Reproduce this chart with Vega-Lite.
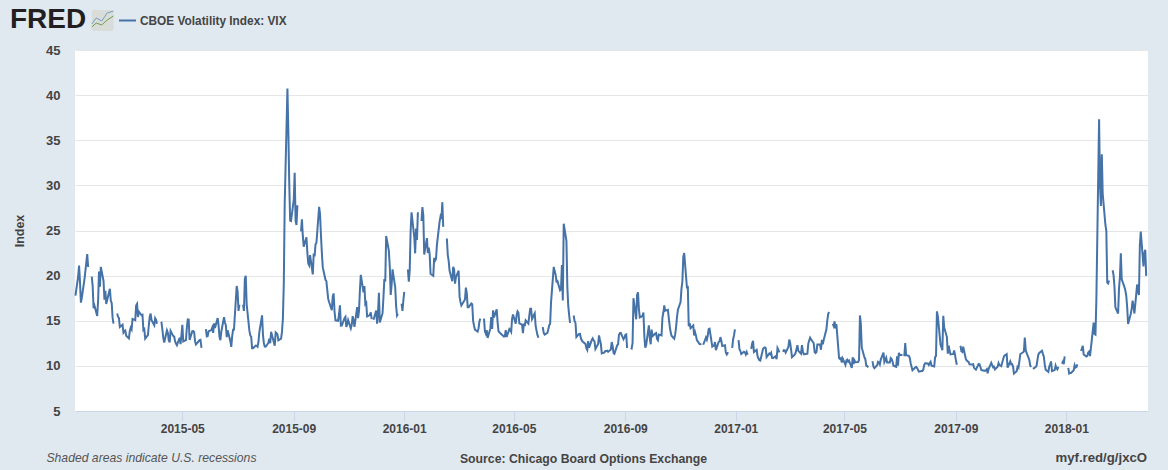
{"$schema":"https://vega.github.io/schema/vega-lite/v6.json","width":1073,"height":361,"autosize":"none","padding":{"left":75,"top":50,"right":20,"bottom":59},"background":"#e1e9f0","view":{"fill":"#ffffff","stroke":null},
"title":{"text":"FRED","anchor":"start","frame":"group","dx":-65,"offset":-47,"baseline":"alphabetic","fontSize":28,"fontWeight":"bold","font":"Liberation Sans","color":"#231f20"},
"config":{"view":{"fill":"#ffffff","stroke":null}},
"datasets":{"logoBox":[{"a":"2015-01-20","b":"2015-02-13","lo":47.1,"hi":49.43}],
"logoLines":[{"d":"2015-01-20","v":47.55,"s":"g"},{"d":"2015-01-25","v":47.99,"s":"g"},{"d":"2015-01-31","v":47.77,"s":"g"},{"d":"2015-02-06","v":48.32,"s":"g"},{"d":"2015-02-13","v":48.77,"s":"g"},{"d":"2015-01-20","v":47.88,"s":"b"},{"d":"2015-01-25","v":48.55,"s":"b"},{"d":"2015-01-31","v":48.21,"s":"b"},{"d":"2015-02-06","v":49.1,"s":"b"},{"d":"2015-02-13","v":49.32,"s":"b"}],
"vix":[
{"d":"2015-01-02","v":17.79},{"d":"2015-01-05","v":19.92},{"d":"2015-01-06","v":21.12},{"d":"2015-01-07","v":19.31},{"d":"2015-01-08","v":17.01},{"d":"2015-01-09","v":17.55},{"d":"2015-01-12","v":19.6},{"d":"2015-01-13","v":20.56},{"d":"2015-01-14","v":21.48},{"d":"2015-01-15","v":22.39},{"d":"2015-01-16","v":20.95},{"d":"2015-01-19","v":null},{"d":"2015-01-20","v":19.89},{"d":"2015-01-21","v":18.85},{"d":"2015-01-22","v":16.4},{"d":"2015-01-23","v":16.66},{"d":"2015-01-26","v":15.52},{"d":"2015-01-27","v":17.22},{"d":"2015-01-28","v":20.44},{"d":"2015-01-29","v":18.76},{"d":"2015-01-30","v":20.97},
{"d":"2015-02-02","v":19.43},{"d":"2015-02-03","v":17.33},{"d":"2015-02-04","v":18.33},{"d":"2015-02-05","v":16.85},{"d":"2015-02-06","v":17.29},{"d":"2015-02-09","v":18.55},{"d":"2015-02-10","v":17.23},{"d":"2015-02-11","v":16.96},{"d":"2015-02-12","v":15.34},{"d":"2015-02-13","v":14.69},{"d":"2015-02-16","v":null},{"d":"2015-02-17","v":15.8},{"d":"2015-02-18","v":15.45},{"d":"2015-02-19","v":15.29},{"d":"2015-02-20","v":14.3},{"d":"2015-02-23","v":14.56},{"d":"2015-02-24","v":13.69},{"d":"2015-02-25","v":13.84},{"d":"2015-02-26","v":13.91},{"d":"2015-02-27","v":13.34},
{"d":"2015-03-02","v":13.04},{"d":"2015-03-03","v":13.86},{"d":"2015-03-04","v":14.23},{"d":"2015-03-05","v":14.04},{"d":"2015-03-06","v":15.2},{"d":"2015-03-09","v":15.06},{"d":"2015-03-10","v":16.69},{"d":"2015-03-11","v":16.87},{"d":"2015-03-12","v":15.42},{"d":"2015-03-13","v":16.0},{"d":"2015-03-16","v":15.61},{"d":"2015-03-17","v":15.66},{"d":"2015-03-18","v":13.97},{"d":"2015-03-19","v":14.07},{"d":"2015-03-20","v":13.02},{"d":"2015-03-23","v":13.41},{"d":"2015-03-24","v":14.5},{"d":"2015-03-25","v":15.44},{"d":"2015-03-26","v":15.8},{"d":"2015-03-27","v":15.07},{"d":"2015-03-30","v":14.51},{"d":"2015-03-31","v":15.29},
{"d":"2015-04-01","v":15.11},{"d":"2015-04-02","v":14.67},{"d":"2015-04-03","v":null},{"d":"2015-04-06","v":14.74},{"d":"2015-04-07","v":14.78},{"d":"2015-04-08","v":13.98},{"d":"2015-04-09","v":13.09},{"d":"2015-04-10","v":12.58},{"d":"2015-04-13","v":13.94},{"d":"2015-04-14","v":13.67},{"d":"2015-04-15","v":12.84},{"d":"2015-04-16","v":12.6},{"d":"2015-04-17","v":13.89},{"d":"2015-04-20","v":13.3},{"d":"2015-04-21","v":13.25},{"d":"2015-04-22","v":12.71},{"d":"2015-04-23","v":12.48},{"d":"2015-04-24","v":12.29},{"d":"2015-04-27","v":13.12},{"d":"2015-04-28","v":12.41},{"d":"2015-04-29","v":13.39},{"d":"2015-04-30","v":14.55},
{"d":"2015-05-01","v":12.7},{"d":"2015-05-04","v":12.85},{"d":"2015-05-05","v":14.31},{"d":"2015-05-06","v":15.15},{"d":"2015-05-07","v":15.13},{"d":"2015-05-08","v":12.86},{"d":"2015-05-11","v":13.85},{"d":"2015-05-12","v":13.86},{"d":"2015-05-13","v":13.76},{"d":"2015-05-14","v":12.74},{"d":"2015-05-15","v":12.38},{"d":"2015-05-18","v":12.73},{"d":"2015-05-19","v":12.85},{"d":"2015-05-20","v":12.88},{"d":"2015-05-21","v":12.11},{"d":"2015-05-22","v":12.13},{"d":"2015-05-25","v":null},{"d":"2015-05-26","v":14.06},{"d":"2015-05-27","v":13.27},{"d":"2015-05-28","v":13.31},{"d":"2015-05-29","v":13.84},
{"d":"2015-06-01","v":13.97},{"d":"2015-06-02","v":14.24},{"d":"2015-06-03","v":13.66},{"d":"2015-06-04","v":14.71},{"d":"2015-06-05","v":14.21},{"d":"2015-06-08","v":15.29},{"d":"2015-06-09","v":14.47},{"d":"2015-06-10","v":13.22},{"d":"2015-06-11","v":12.85},{"d":"2015-06-12","v":13.78},{"d":"2015-06-15","v":15.39},{"d":"2015-06-16","v":14.81},{"d":"2015-06-17","v":14.5},{"d":"2015-06-18","v":13.19},{"d":"2015-06-19","v":13.96},{"d":"2015-06-22","v":12.74},{"d":"2015-06-23","v":12.11},{"d":"2015-06-24","v":13.26},{"d":"2015-06-25","v":14.01},{"d":"2015-06-26","v":14.02},{"d":"2015-06-29","v":18.85},{"d":"2015-06-30","v":18.23},
{"d":"2015-07-01","v":16.09},{"d":"2015-07-02","v":16.79},{"d":"2015-07-03","v":null},{"d":"2015-07-06","v":16.79},{"d":"2015-07-07","v":16.09},{"d":"2015-07-08","v":19.66},{"d":"2015-07-09","v":19.97},{"d":"2015-07-10","v":16.83},{"d":"2015-07-13","v":13.9},{"d":"2015-07-14","v":13.37},{"d":"2015-07-15","v":13.23},{"d":"2015-07-16","v":11.95},{"d":"2015-07-17","v":11.95},{"d":"2015-07-20","v":12.25},{"d":"2015-07-21","v":12.22},{"d":"2015-07-22","v":12.12},{"d":"2015-07-23","v":12.64},{"d":"2015-07-24","v":13.74},{"d":"2015-07-27","v":15.6},{"d":"2015-07-28","v":13.44},{"d":"2015-07-29","v":12.5},{"d":"2015-07-30","v":12.13},{"d":"2015-07-31","v":12.12},
{"d":"2015-08-03","v":12.56},{"d":"2015-08-04","v":13.0},{"d":"2015-08-05","v":12.51},{"d":"2015-08-06","v":13.77},{"d":"2015-08-07","v":13.39},{"d":"2015-08-10","v":12.23},{"d":"2015-08-11","v":13.71},{"d":"2015-08-12","v":13.61},{"d":"2015-08-13","v":13.49},{"d":"2015-08-14","v":12.83},{"d":"2015-08-17","v":13.02},{"d":"2015-08-18","v":13.79},{"d":"2015-08-19","v":15.25},{"d":"2015-08-20","v":19.14},{"d":"2015-08-21","v":28.03},{"d":"2015-08-24","v":40.74},{"d":"2015-08-25","v":36.02},{"d":"2015-08-26","v":30.32},{"d":"2015-08-27","v":26.1},{"d":"2015-08-28","v":26.05},{"d":"2015-08-31","v":28.43},
{"d":"2015-09-01","v":31.4},{"d":"2015-09-02","v":26.09},{"d":"2015-09-03","v":25.61},{"d":"2015-09-04","v":27.8},{"d":"2015-09-07","v":null},{"d":"2015-09-08","v":24.9},{"d":"2015-09-09","v":26.23},{"d":"2015-09-10","v":24.37},{"d":"2015-09-11","v":23.2},{"d":"2015-09-14","v":24.25},{"d":"2015-09-15","v":22.54},{"d":"2015-09-16","v":21.35},{"d":"2015-09-17","v":21.14},{"d":"2015-09-18","v":22.28},{"d":"2015-09-21","v":20.14},{"d":"2015-09-22","v":22.44},{"d":"2015-09-23","v":22.13},{"d":"2015-09-24","v":23.47},{"d":"2015-09-25","v":23.62},{"d":"2015-09-28","v":27.63},{"d":"2015-09-29","v":26.83},{"d":"2015-09-30","v":24.5},
{"d":"2015-10-01","v":22.55},{"d":"2015-10-02","v":20.94},{"d":"2015-10-05","v":19.54},{"d":"2015-10-06","v":19.4},{"d":"2015-10-07","v":18.4},{"d":"2015-10-08","v":17.42},{"d":"2015-10-09","v":17.08},{"d":"2015-10-12","v":16.17},{"d":"2015-10-13","v":17.67},{"d":"2015-10-14","v":18.03},{"d":"2015-10-15","v":16.05},{"d":"2015-10-16","v":15.05},{"d":"2015-10-19","v":15.0},{"d":"2015-10-20","v":15.75},{"d":"2015-10-21","v":16.7},{"d":"2015-10-22","v":14.45},{"d":"2015-10-23","v":14.46},{"d":"2015-10-26","v":15.29},{"d":"2015-10-27","v":15.43},{"d":"2015-10-28","v":14.33},{"d":"2015-10-29","v":14.61},{"d":"2015-10-30","v":15.07},
{"d":"2015-11-02","v":14.15},{"d":"2015-11-03","v":14.54},{"d":"2015-11-04","v":15.51},{"d":"2015-11-05","v":15.05},{"d":"2015-11-06","v":14.33},{"d":"2015-11-09","v":16.52},{"d":"2015-11-10","v":15.29},{"d":"2015-11-11","v":16.06},{"d":"2015-11-12","v":18.37},{"d":"2015-11-13","v":20.08},{"d":"2015-11-16","v":18.16},{"d":"2015-11-17","v":18.84},{"d":"2015-11-18","v":16.85},{"d":"2015-11-19","v":16.99},{"d":"2015-11-20","v":15.47},{"d":"2015-11-23","v":15.62},{"d":"2015-11-24","v":15.93},{"d":"2015-11-25","v":15.19},{"d":"2015-11-26","v":null},{"d":"2015-11-27","v":15.12},{"d":"2015-11-30","v":16.13},
{"d":"2015-12-01","v":14.67},{"d":"2015-12-02","v":15.91},{"d":"2015-12-03","v":18.11},{"d":"2015-12-04","v":14.81},{"d":"2015-12-07","v":15.84},{"d":"2015-12-08","v":17.6},{"d":"2015-12-09","v":19.61},{"d":"2015-12-10","v":19.34},{"d":"2015-12-11","v":24.39},{"d":"2015-12-14","v":22.73},{"d":"2015-12-15","v":20.95},{"d":"2015-12-16","v":17.86},{"d":"2015-12-17","v":18.94},{"d":"2015-12-18","v":20.7},{"d":"2015-12-21","v":18.7},{"d":"2015-12-22","v":16.6},{"d":"2015-12-23","v":15.57},{"d":"2015-12-24","v":15.74},{"d":"2015-12-25","v":null},{"d":"2015-12-28","v":16.91},{"d":"2015-12-29","v":16.08},{"d":"2015-12-30","v":17.29},{"d":"2015-12-31","v":18.21},{"d":"2016-01-01","v":null},
{"d":"2016-01-04","v":20.7},{"d":"2016-01-05","v":19.34},{"d":"2016-01-06","v":20.59},{"d":"2016-01-07","v":24.99},{"d":"2016-01-08","v":27.01},{"d":"2016-01-11","v":24.3},{"d":"2016-01-12","v":22.47},{"d":"2016-01-13","v":25.22},{"d":"2016-01-14","v":23.95},{"d":"2016-01-15","v":27.02},{"d":"2016-01-18","v":null},{"d":"2016-01-19","v":26.05},{"d":"2016-01-20","v":27.59},{"d":"2016-01-21","v":26.69},{"d":"2016-01-22","v":22.34},{"d":"2016-01-25","v":24.15},{"d":"2016-01-26","v":22.5},{"d":"2016-01-27","v":23.11},{"d":"2016-01-28","v":22.42},{"d":"2016-01-29","v":20.2},
{"d":"2016-02-01","v":19.98},{"d":"2016-02-02","v":21.98},{"d":"2016-02-03","v":21.65},{"d":"2016-02-04","v":21.84},{"d":"2016-02-05","v":23.38},{"d":"2016-02-08","v":26.0},{"d":"2016-02-09","v":26.54},{"d":"2016-02-10","v":26.29},{"d":"2016-02-11","v":28.14},{"d":"2016-02-12","v":25.4},{"d":"2016-02-15","v":null},{"d":"2016-02-16","v":24.11},{"d":"2016-02-17","v":22.31},{"d":"2016-02-18","v":21.64},{"d":"2016-02-19","v":20.53},{"d":"2016-02-22","v":19.38},{"d":"2016-02-23","v":20.98},{"d":"2016-02-24","v":20.72},{"d":"2016-02-25","v":19.11},{"d":"2016-02-26","v":19.81},{"d":"2016-02-29","v":20.55},
{"d":"2016-03-01","v":17.7},{"d":"2016-03-02","v":17.09},{"d":"2016-03-03","v":16.7},{"d":"2016-03-04","v":16.86},{"d":"2016-03-07","v":17.35},{"d":"2016-03-08","v":18.67},{"d":"2016-03-09","v":18.05},{"d":"2016-03-10","v":16.5},{"d":"2016-03-11","v":16.5},{"d":"2016-03-14","v":16.92},{"d":"2016-03-15","v":16.84},{"d":"2016-03-16","v":14.99},{"d":"2016-03-17","v":14.44},{"d":"2016-03-18","v":14.02},{"d":"2016-03-21","v":13.79},{"d":"2016-03-22","v":14.17},{"d":"2016-03-23","v":14.94},{"d":"2016-03-24","v":15.24},{"d":"2016-03-25","v":null},{"d":"2016-03-28","v":15.24},{"d":"2016-03-29","v":13.82},{"d":"2016-03-30","v":13.56},{"d":"2016-03-31","v":13.95},
{"d":"2016-04-01","v":13.1},{"d":"2016-04-04","v":14.12},{"d":"2016-04-05","v":15.42},{"d":"2016-04-06","v":14.09},{"d":"2016-04-07","v":16.16},{"d":"2016-04-08","v":15.36},{"d":"2016-04-11","v":16.26},{"d":"2016-04-12","v":14.85},{"d":"2016-04-13","v":13.84},{"d":"2016-04-14","v":13.72},{"d":"2016-04-15","v":13.62},{"d":"2016-04-18","v":13.35},{"d":"2016-04-19","v":13.24},{"d":"2016-04-20","v":13.28},{"d":"2016-04-21","v":13.95},{"d":"2016-04-22","v":13.22},{"d":"2016-04-25","v":14.08},{"d":"2016-04-26","v":13.96},{"d":"2016-04-27","v":13.77},{"d":"2016-04-28","v":15.22},{"d":"2016-04-29","v":15.7},
{"d":"2016-05-02","v":14.68},{"d":"2016-05-03","v":15.6},{"d":"2016-05-04","v":16.05},{"d":"2016-05-05","v":15.91},{"d":"2016-05-06","v":14.72},{"d":"2016-05-09","v":14.57},{"d":"2016-05-10","v":13.63},{"d":"2016-05-11","v":14.69},{"d":"2016-05-12","v":14.41},{"d":"2016-05-13","v":15.04},{"d":"2016-05-16","v":14.68},{"d":"2016-05-17","v":15.57},{"d":"2016-05-18","v":16.33},{"d":"2016-05-19","v":16.33},{"d":"2016-05-20","v":15.2},{"d":"2016-05-23","v":15.82},{"d":"2016-05-24","v":14.42},{"d":"2016-05-25","v":13.9},{"d":"2016-05-26","v":13.43},{"d":"2016-05-27","v":13.12},{"d":"2016-05-30","v":null},{"d":"2016-05-31","v":14.19},
{"d":"2016-06-01","v":14.2},{"d":"2016-06-02","v":13.63},{"d":"2016-06-03","v":13.47},{"d":"2016-06-06","v":13.65},{"d":"2016-06-07","v":14.05},{"d":"2016-06-08","v":14.5},{"d":"2016-06-09","v":14.64},{"d":"2016-06-10","v":17.03},{"d":"2016-06-13","v":20.97},{"d":"2016-06-14","v":20.5},{"d":"2016-06-15","v":20.14},{"d":"2016-06-16","v":19.37},{"d":"2016-06-17","v":19.41},{"d":"2016-06-20","v":18.37},{"d":"2016-06-21","v":18.48},{"d":"2016-06-22","v":21.17},{"d":"2016-06-23","v":17.25},{"d":"2016-06-24","v":25.76},{"d":"2016-06-27","v":23.85},{"d":"2016-06-28","v":18.75},{"d":"2016-06-29","v":16.64},{"d":"2016-06-30","v":15.63},
{"d":"2016-07-01","v":14.77},{"d":"2016-07-04","v":null},{"d":"2016-07-05","v":15.58},{"d":"2016-07-06","v":14.96},{"d":"2016-07-07","v":14.76},{"d":"2016-07-08","v":13.2},{"d":"2016-07-11","v":13.54},{"d":"2016-07-12","v":13.55},{"d":"2016-07-13","v":13.04},{"d":"2016-07-14","v":12.82},{"d":"2016-07-15","v":12.67},{"d":"2016-07-18","v":12.44},{"d":"2016-07-19","v":11.97},{"d":"2016-07-20","v":11.77},{"d":"2016-07-21","v":12.74},{"d":"2016-07-22","v":12.02},{"d":"2016-07-25","v":12.87},{"d":"2016-07-26","v":13.05},{"d":"2016-07-27","v":12.83},{"d":"2016-07-28","v":12.72},{"d":"2016-07-29","v":11.87},
{"d":"2016-08-01","v":12.44},{"d":"2016-08-02","v":13.37},{"d":"2016-08-03","v":12.86},{"d":"2016-08-04","v":12.42},{"d":"2016-08-05","v":11.39},{"d":"2016-08-08","v":11.5},{"d":"2016-08-09","v":11.66},{"d":"2016-08-10","v":11.66},{"d":"2016-08-11","v":11.68},{"d":"2016-08-12","v":11.55},{"d":"2016-08-15","v":11.81},{"d":"2016-08-16","v":12.64},{"d":"2016-08-17","v":12.19},{"d":"2016-08-18","v":11.43},{"d":"2016-08-19","v":11.34},{"d":"2016-08-22","v":12.27},{"d":"2016-08-23","v":12.38},{"d":"2016-08-24","v":13.45},{"d":"2016-08-25","v":13.63},{"d":"2016-08-26","v":13.65},{"d":"2016-08-29","v":12.94},{"d":"2016-08-30","v":13.12},{"d":"2016-08-31","v":13.42},
{"d":"2016-09-01","v":13.48},{"d":"2016-09-02","v":11.98},{"d":"2016-09-05","v":null},{"d":"2016-09-06","v":12.02},{"d":"2016-09-07","v":11.94},{"d":"2016-09-08","v":12.51},{"d":"2016-09-09","v":17.5},{"d":"2016-09-12","v":15.16},{"d":"2016-09-13","v":17.85},{"d":"2016-09-14","v":18.14},{"d":"2016-09-15","v":16.3},{"d":"2016-09-16","v":15.37},{"d":"2016-09-19","v":15.53},{"d":"2016-09-20","v":15.92},{"d":"2016-09-21","v":13.3},{"d":"2016-09-22","v":12.02},{"d":"2016-09-23","v":12.29},{"d":"2016-09-26","v":14.5},{"d":"2016-09-27","v":13.1},{"d":"2016-09-28","v":12.39},{"d":"2016-09-29","v":14.02},{"d":"2016-09-30","v":13.29},
{"d":"2016-10-03","v":13.57},{"d":"2016-10-04","v":13.63},{"d":"2016-10-05","v":12.99},{"d":"2016-10-06","v":12.84},{"d":"2016-10-07","v":13.48},{"d":"2016-10-10","v":13.38},{"d":"2016-10-11","v":15.36},{"d":"2016-10-12","v":15.91},{"d":"2016-10-13","v":16.69},{"d":"2016-10-14","v":16.12},{"d":"2016-10-17","v":16.21},{"d":"2016-10-18","v":15.28},{"d":"2016-10-19","v":14.41},{"d":"2016-10-20","v":13.75},{"d":"2016-10-21","v":13.34},{"d":"2016-10-24","v":13.02},{"d":"2016-10-25","v":13.46},{"d":"2016-10-26","v":14.24},{"d":"2016-10-27","v":15.36},{"d":"2016-10-28","v":16.19},{"d":"2016-10-31","v":17.06},
{"d":"2016-11-01","v":18.56},{"d":"2016-11-02","v":19.32},{"d":"2016-11-03","v":22.08},{"d":"2016-11-04","v":22.51},{"d":"2016-11-07","v":18.71},{"d":"2016-11-08","v":18.74},{"d":"2016-11-09","v":14.38},{"d":"2016-11-10","v":14.74},{"d":"2016-11-11","v":14.17},{"d":"2016-11-14","v":14.48},{"d":"2016-11-15","v":13.37},{"d":"2016-11-16","v":13.72},{"d":"2016-11-17","v":13.35},{"d":"2016-11-18","v":12.85},{"d":"2016-11-21","v":12.42},{"d":"2016-11-22","v":12.41},{"d":"2016-11-23","v":12.43},{"d":"2016-11-24","v":null},{"d":"2016-11-25","v":12.34},{"d":"2016-11-28","v":13.15},{"d":"2016-11-29","v":12.9},{"d":"2016-11-30","v":13.33},
{"d":"2016-12-01","v":14.07},{"d":"2016-12-02","v":14.12},{"d":"2016-12-05","v":12.14},{"d":"2016-12-06","v":12.22},{"d":"2016-12-07","v":12.22},{"d":"2016-12-08","v":12.64},{"d":"2016-12-09","v":11.75},{"d":"2016-12-12","v":12.64},{"d":"2016-12-13","v":12.72},{"d":"2016-12-14","v":13.19},{"d":"2016-12-15","v":12.79},{"d":"2016-12-16","v":12.2},{"d":"2016-12-19","v":12.29},{"d":"2016-12-20","v":11.45},{"d":"2016-12-21","v":11.27},{"d":"2016-12-22","v":11.43},{"d":"2016-12-23","v":11.44},{"d":"2016-12-26","v":null},{"d":"2016-12-27","v":11.99},{"d":"2016-12-28","v":12.95},{"d":"2016-12-29","v":13.37},{"d":"2016-12-30","v":14.04},{"d":"2017-01-02","v":null},
{"d":"2017-01-03","v":12.85},{"d":"2017-01-04","v":11.85},{"d":"2017-01-05","v":11.67},{"d":"2017-01-06","v":11.32},{"d":"2017-01-09","v":11.56},{"d":"2017-01-10","v":11.49},{"d":"2017-01-11","v":11.26},{"d":"2017-01-12","v":11.54},{"d":"2017-01-13","v":11.23},{"d":"2017-01-16","v":null},{"d":"2017-01-17","v":11.87},{"d":"2017-01-18","v":12.48},{"d":"2017-01-19","v":12.78},{"d":"2017-01-20","v":11.54},{"d":"2017-01-23","v":11.77},{"d":"2017-01-24","v":11.07},{"d":"2017-01-25","v":10.81},{"d":"2017-01-26","v":10.63},{"d":"2017-01-27","v":10.58},{"d":"2017-01-30","v":11.88},{"d":"2017-01-31","v":11.99},
{"d":"2017-02-01","v":12.04},{"d":"2017-02-02","v":11.98},{"d":"2017-02-03","v":10.97},{"d":"2017-02-06","v":11.37},{"d":"2017-02-07","v":11.29},{"d":"2017-02-08","v":11.45},{"d":"2017-02-09","v":10.88},{"d":"2017-02-10","v":10.85},{"d":"2017-02-13","v":11.07},{"d":"2017-02-14","v":10.74},{"d":"2017-02-15","v":11.97},{"d":"2017-02-16","v":11.76},{"d":"2017-02-17","v":11.49},{"d":"2017-02-20","v":null},{"d":"2017-02-21","v":11.57},{"d":"2017-02-22","v":11.74},{"d":"2017-02-23","v":11.71},{"d":"2017-02-24","v":11.47},{"d":"2017-02-27","v":12.09},{"d":"2017-02-28","v":12.92},
{"d":"2017-03-01","v":12.54},{"d":"2017-03-02","v":11.81},{"d":"2017-03-03","v":10.96},{"d":"2017-03-06","v":11.24},{"d":"2017-03-07","v":11.45},{"d":"2017-03-08","v":11.86},{"d":"2017-03-09","v":12.3},{"d":"2017-03-10","v":11.66},{"d":"2017-03-13","v":11.35},{"d":"2017-03-14","v":12.3},{"d":"2017-03-15","v":11.63},{"d":"2017-03-16","v":11.28},{"d":"2017-03-17","v":11.28},{"d":"2017-03-20","v":11.34},{"d":"2017-03-21","v":12.47},{"d":"2017-03-22","v":12.81},{"d":"2017-03-23","v":13.12},{"d":"2017-03-24","v":12.96},{"d":"2017-03-27","v":12.5},{"d":"2017-03-28","v":11.53},{"d":"2017-03-29","v":11.42},{"d":"2017-03-30","v":11.54},{"d":"2017-03-31","v":12.37},
{"d":"2017-04-03","v":12.38},{"d":"2017-04-04","v":11.79},{"d":"2017-04-05","v":12.89},{"d":"2017-04-06","v":12.39},{"d":"2017-04-07","v":12.87},{"d":"2017-04-10","v":14.05},{"d":"2017-04-11","v":15.07},{"d":"2017-04-12","v":15.77},{"d":"2017-04-13","v":15.96},{"d":"2017-04-14","v":null},{"d":"2017-04-17","v":14.66},{"d":"2017-04-18","v":14.42},{"d":"2017-04-19","v":14.93},{"d":"2017-04-20","v":14.15},{"d":"2017-04-21","v":14.63},{"d":"2017-04-24","v":10.84},{"d":"2017-04-25","v":10.76},{"d":"2017-04-26","v":10.85},{"d":"2017-04-27","v":10.36},{"d":"2017-04-28","v":10.82},
{"d":"2017-05-01","v":10.11},{"d":"2017-05-02","v":10.59},{"d":"2017-05-03","v":10.68},{"d":"2017-05-04","v":10.46},{"d":"2017-05-05","v":10.57},{"d":"2017-05-08","v":9.77},{"d":"2017-05-09","v":10.96},{"d":"2017-05-10","v":10.21},{"d":"2017-05-11","v":10.6},{"d":"2017-05-12","v":10.4},{"d":"2017-05-15","v":10.42},{"d":"2017-05-16","v":10.65},{"d":"2017-05-17","v":15.59},{"d":"2017-05-18","v":14.66},{"d":"2017-05-19","v":12.04},{"d":"2017-05-22","v":10.93},{"d":"2017-05-23","v":10.72},{"d":"2017-05-24","v":10.02},{"d":"2017-05-25","v":9.99},{"d":"2017-05-26","v":9.81},{"d":"2017-05-29","v":null},{"d":"2017-05-30","v":10.38},{"d":"2017-05-31","v":10.41},
{"d":"2017-06-01","v":9.89},{"d":"2017-06-02","v":9.75},{"d":"2017-06-05","v":10.07},{"d":"2017-06-06","v":10.45},{"d":"2017-06-07","v":10.39},{"d":"2017-06-08","v":10.16},{"d":"2017-06-09","v":10.7},{"d":"2017-06-12","v":11.46},{"d":"2017-06-13","v":10.42},{"d":"2017-06-14","v":10.64},{"d":"2017-06-15","v":10.9},{"d":"2017-06-16","v":10.38},{"d":"2017-06-19","v":10.37},{"d":"2017-06-20","v":10.86},{"d":"2017-06-21","v":10.75},{"d":"2017-06-22","v":10.48},{"d":"2017-06-23","v":10.02},{"d":"2017-06-26","v":9.9},{"d":"2017-06-27","v":11.06},{"d":"2017-06-28","v":10.03},{"d":"2017-06-29","v":11.44},{"d":"2017-06-30","v":11.18},
{"d":"2017-07-03","v":11.22},{"d":"2017-07-04","v":null},{"d":"2017-07-05","v":11.07},{"d":"2017-07-06","v":12.54},{"d":"2017-07-07","v":11.19},{"d":"2017-07-10","v":11.11},{"d":"2017-07-11","v":10.89},{"d":"2017-07-12","v":10.3},{"d":"2017-07-13","v":9.9},{"d":"2017-07-14","v":9.51},{"d":"2017-07-17","v":9.82},{"d":"2017-07-18","v":9.89},{"d":"2017-07-19","v":9.79},{"d":"2017-07-20","v":9.58},{"d":"2017-07-21","v":9.36},{"d":"2017-07-24","v":9.43},{"d":"2017-07-25","v":9.43},{"d":"2017-07-26","v":9.6},{"d":"2017-07-27","v":10.11},{"d":"2017-07-28","v":10.29},{"d":"2017-07-31","v":10.26},
{"d":"2017-08-01","v":10.09},{"d":"2017-08-02","v":10.28},{"d":"2017-08-03","v":10.44},{"d":"2017-08-04","v":10.03},{"d":"2017-08-07","v":9.93},{"d":"2017-08-08","v":10.96},{"d":"2017-08-09","v":11.11},{"d":"2017-08-10","v":16.04},{"d":"2017-08-11","v":15.51},{"d":"2017-08-14","v":12.33},{"d":"2017-08-15","v":12.04},{"d":"2017-08-16","v":11.74},{"d":"2017-08-17","v":15.55},{"d":"2017-08-18","v":14.26},{"d":"2017-08-21","v":13.19},{"d":"2017-08-22","v":11.35},{"d":"2017-08-23","v":12.25},{"d":"2017-08-24","v":11.67},{"d":"2017-08-25","v":11.28},{"d":"2017-08-28","v":11.32},{"d":"2017-08-29","v":11.7},{"d":"2017-08-30","v":11.22},{"d":"2017-08-31","v":10.59},
{"d":"2017-09-01","v":10.13},{"d":"2017-09-04","v":null},{"d":"2017-09-05","v":12.23},{"d":"2017-09-06","v":11.63},{"d":"2017-09-07","v":11.55},{"d":"2017-09-08","v":12.12},{"d":"2017-09-11","v":10.73},{"d":"2017-09-12","v":10.58},{"d":"2017-09-13","v":10.5},{"d":"2017-09-14","v":10.44},{"d":"2017-09-15","v":10.17},{"d":"2017-09-18","v":10.15},{"d":"2017-09-19","v":10.18},{"d":"2017-09-20","v":9.78},{"d":"2017-09-21","v":9.67},{"d":"2017-09-22","v":9.59},{"d":"2017-09-25","v":10.21},{"d":"2017-09-26","v":10.17},{"d":"2017-09-27","v":9.87},{"d":"2017-09-28","v":9.55},{"d":"2017-09-29","v":9.51},
{"d":"2017-10-02","v":9.45},{"d":"2017-10-03","v":9.51},{"d":"2017-10-04","v":9.63},{"d":"2017-10-05","v":9.19},{"d":"2017-10-06","v":9.65},{"d":"2017-10-09","v":10.33},{"d":"2017-10-10","v":10.08},{"d":"2017-10-11","v":9.85},{"d":"2017-10-12","v":9.91},{"d":"2017-10-13","v":9.61},{"d":"2017-10-16","v":9.91},{"d":"2017-10-17","v":10.31},{"d":"2017-10-18","v":10.07},{"d":"2017-10-19","v":10.05},{"d":"2017-10-20","v":9.97},{"d":"2017-10-23","v":11.07},{"d":"2017-10-24","v":11.16},{"d":"2017-10-25","v":11.23},{"d":"2017-10-26","v":11.3},{"d":"2017-10-27","v":9.8},{"d":"2017-10-30","v":10.5},{"d":"2017-10-31","v":10.18},
{"d":"2017-11-01","v":10.2},{"d":"2017-11-02","v":9.93},{"d":"2017-11-03","v":9.14},{"d":"2017-11-06","v":9.4},{"d":"2017-11-07","v":9.89},{"d":"2017-11-08","v":9.78},{"d":"2017-11-09","v":10.5},{"d":"2017-11-10","v":11.29},{"d":"2017-11-13","v":11.5},{"d":"2017-11-14","v":11.59},{"d":"2017-11-15","v":13.13},{"d":"2017-11-16","v":11.76},{"d":"2017-11-17","v":11.43},{"d":"2017-11-20","v":10.65},{"d":"2017-11-21","v":10.03},{"d":"2017-11-22","v":9.88},{"d":"2017-11-23","v":null},{"d":"2017-11-24","v":9.67},{"d":"2017-11-27","v":9.87},{"d":"2017-11-28","v":10.03},{"d":"2017-11-29","v":10.7},{"d":"2017-11-30","v":11.28},
{"d":"2017-12-01","v":11.43},{"d":"2017-12-04","v":11.68},{"d":"2017-12-05","v":11.33},{"d":"2017-12-06","v":11.02},{"d":"2017-12-07","v":10.16},{"d":"2017-12-08","v":9.58},{"d":"2017-12-11","v":9.34},{"d":"2017-12-12","v":9.92},{"d":"2017-12-13","v":10.18},{"d":"2017-12-14","v":10.49},{"d":"2017-12-15","v":9.42},{"d":"2017-12-18","v":9.53},{"d":"2017-12-19","v":10.03},{"d":"2017-12-20","v":9.72},{"d":"2017-12-21","v":9.62},{"d":"2017-12-22","v":9.9},{"d":"2017-12-25","v":null},{"d":"2017-12-26","v":10.25},{"d":"2017-12-27","v":10.47},{"d":"2017-12-28","v":10.18},{"d":"2017-12-29","v":11.04},{"d":"2018-01-01","v":null},
{"d":"2018-01-02","v":9.77},{"d":"2018-01-03","v":9.15},{"d":"2018-01-04","v":9.22},{"d":"2018-01-05","v":9.22},{"d":"2018-01-08","v":9.52},{"d":"2018-01-09","v":10.08},{"d":"2018-01-10","v":9.82},{"d":"2018-01-11","v":9.88},{"d":"2018-01-12","v":10.16},{"d":"2018-01-15","v":null},{"d":"2018-01-16","v":11.66},{"d":"2018-01-17","v":11.91},{"d":"2018-01-18","v":12.22},{"d":"2018-01-19","v":11.27},{"d":"2018-01-22","v":11.03},{"d":"2018-01-23","v":11.1},{"d":"2018-01-24","v":11.47},{"d":"2018-01-25","v":11.58},{"d":"2018-01-26","v":11.08},{"d":"2018-01-29","v":13.84},{"d":"2018-01-30","v":14.79},{"d":"2018-01-31","v":13.54},
{"d":"2018-02-01","v":13.47},{"d":"2018-02-02","v":17.31},{"d":"2018-02-05","v":37.32},{"d":"2018-02-06","v":29.98},{"d":"2018-02-07","v":27.73},{"d":"2018-02-08","v":33.46},{"d":"2018-02-09","v":29.06},{"d":"2018-02-12","v":25.61},{"d":"2018-02-13","v":24.97},{"d":"2018-02-14","v":19.26},{"d":"2018-02-15","v":19.13},{"d":"2018-02-16","v":19.46},{"d":"2018-02-19","v":null},{"d":"2018-02-20","v":20.6},{"d":"2018-02-21","v":20.02},{"d":"2018-02-22","v":18.72},{"d":"2018-02-23","v":16.49},{"d":"2018-02-26","v":15.8},{"d":"2018-02-27","v":18.59},{"d":"2018-02-28","v":19.85},
{"d":"2018-03-01","v":22.47},{"d":"2018-03-02","v":19.59},{"d":"2018-03-05","v":18.73},{"d":"2018-03-06","v":18.36},{"d":"2018-03-07","v":17.76},{"d":"2018-03-08","v":16.54},{"d":"2018-03-09","v":14.64},{"d":"2018-03-12","v":15.78},{"d":"2018-03-13","v":16.35},{"d":"2018-03-14","v":17.23},{"d":"2018-03-15","v":16.59},{"d":"2018-03-16","v":15.8},{"d":"2018-03-19","v":19.02},{"d":"2018-03-20","v":18.2},{"d":"2018-03-21","v":17.86},{"d":"2018-03-22","v":23.34},{"d":"2018-03-23","v":24.87},{"d":"2018-03-26","v":21.03},{"d":"2018-03-27","v":22.5},{"d":"2018-03-28","v":22.87},{"d":"2018-03-29","v":19.97}
]},
"encoding":{
"x":{"field":"d","type":"temporal","scale":{"type":"utc","domain":[1420113600000,1522454400000]},"axis":{"format":"%Y-%m","tickCount":{"interval":"month","step":4},"tickOffset":-1,"grid":false,"domainColor":"#ccd6eb","domainWidth":1,"tickColor":"#ccd6eb","tickSize":10,"labelFont":"Liberation Sans","labelFontSize":12,"labelFontWeight":"bold","labelColor":"#444444","labelPadding":2,"labelFlush":false,"labelOverlap":false,"title":"Source: Chicago Board Options Exchange","titleFont":"Liberation Sans","titleFontSize":12.25,"titleFontWeight":"bold","titleColor":"#444444","titleX":508,"titleY":47,"titleBaseline":"middle","titleAlign":"center"}},
"y":{"field":"v","type":"quantitative","scale":{"domain":[5,45],"nice":false,"zero":false},"axis":{"values":[5,10,15,20,25,30,35,40,45],"grid":true,"gridColor":"#e6e6e6","gridWidth":1,"domain":false,"ticks":false,"labelFont":"Liberation Sans","labelFontSize":13,"labelFontWeight":"bold","labelColor":"#444444","labelPadding":15,"title":"Index","titleFont":"Liberation Sans","titleFontSize":12.5,"titleFontWeight":"bold","titleColor":"#444444","titleX":-49}}
},
"layer":[
{"data":{"name":"vix"},"mark":{"type":"line","strokeWidth":2,"interpolate":"linear"},"encoding":{"color":{"datum":"CBOE Volatility Index: VIX","scale":{"range":["#4572a7"]},"legend":{"orient":"none","legendX":43,"legendY":-39,"title":null,"padding":0,"symbolType":"stroke","symbolSize":289,"symbolStrokeWidth":2,"labelFont":"Liberation Sans","labelFontSize":11.85,"labelFontWeight":"bold","labelColor":"#444444","labelOffset":3}}}},
{"data":{"name":"logoBox"},"mark":{"type":"rect","fill":"#d9dcd9","cornerRadius":2,"clip":false},"encoding":{"x":{"field":"a","type":"temporal"},"x2":{"field":"b"},"y":{"field":"lo","type":"quantitative"},"y2":{"field":"hi"}}},
{"data":{"name":"logoLines"},"transform":[{"filter":"datum.s==='g'"}],"mark":{"type":"line","stroke":"#6f9d4c","strokeWidth":1,"clip":false},"encoding":{}},
{"data":{"name":"logoLines"},"transform":[{"filter":"datum.s==='b'"}],"mark":{"type":"line","stroke":"#6fa0c0","strokeWidth":1,"clip":false},"encoding":{}},
{"data":{"values":[{"d":"2014-12-01","v":-0.2,"t":"Shaded areas indicate U.S. recessions"}]},"mark":{"type":"text","align":"left","baseline":"middle","font":"Liberation Sans","fontSize":12.2,"fontStyle":"italic","color":"#555555"},"encoding":{"text":{"field":"t"}}},
{"data":{"values":[{"d":"2018-03-30","v":-0.2,"t":"myf.red/g/jxcO"}]},"mark":{"type":"text","align":"right","baseline":"middle","font":"Liberation Sans","fontSize":13.2,"fontWeight":"bold","color":"#444444"},"encoding":{"text":{"field":"t"}}}
]}
